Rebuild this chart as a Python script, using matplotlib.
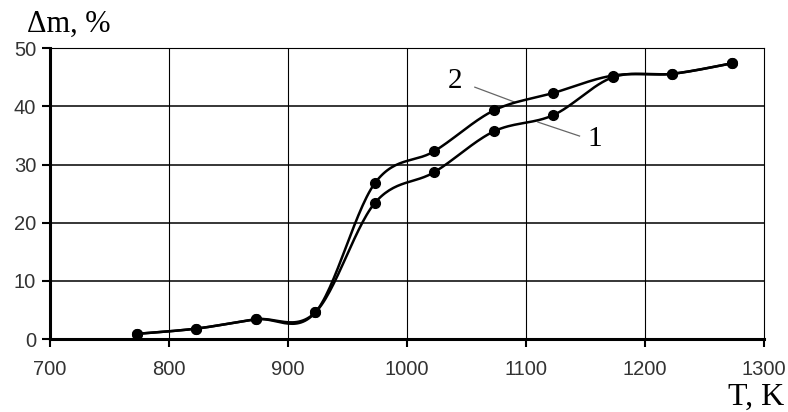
import matplotlib
matplotlib.use('Agg')
import numpy as np
import matplotlib.pyplot as plt

# temperature, K
temp = [773, 823, 873, 923, 973, 1023, 1073, 1123, 1173, 1223, 1273]
# mass change, % (curve 1 - lower, curve 2 - upper)
dm_1 = [0.9, 1.8, 3.4, 4.6, 23.4, 28.7, 35.7, 38.5, 45.0, 45.6, 47.4]
dm_2 = [0.9, 1.8, 3.4, 4.6, 26.8, 32.3, 39.3, 42.3, 45.3, 45.6, 47.4]

x_ticks = [700, 800, 900, 1000, 1100, 1200, 1300]
y_ticks = [0, 10, 20, 30, 40, 50]


def smooth(x, y, n=30):
    # Excel-style smoothed line (Catmull-Rom through the points)
    x = np.asarray(x, float)
    y = np.asarray(y, float)
    px = np.concatenate([[x[0]], x, [x[-1]]])
    py = np.concatenate([[y[0]], y, [y[-1]]])
    xs, ys = [], []
    t = np.linspace(0, 1, n)
    for i in range(1, len(px) - 2):
        p0, p1, p2, p3 = (np.array([px[j], py[j]]) for j in (i - 1, i, i + 1, i + 2))
        c1 = p1 + (p2 - p0) / 6
        c2 = p2 - (p3 - p1) / 6
        pts = ((1 - t) ** 3)[:, None] * p1 + (3 * (1 - t) ** 2 * t)[:, None] * c1 \
            + (3 * (1 - t) * t ** 2)[:, None] * c2 + (t ** 3)[:, None] * p2
        xs.extend(pts[:, 0])
        ys.extend(pts[:, 1])
    return xs, ys


fig = plt.figure(figsize=(7.88, 4.12), dpi=100)
ax = fig.add_axes([0.0635, 0.177, 0.906, 0.706])

for dm in (dm_1, dm_2):
    sx, sy = smooth(temp, dm)
    ax.plot(sx, sy, color='black', lw=1.8, zorder=3)
    ax.plot(temp, dm, 'o', color='black', ms=7, zorder=4)

ax.set_xlim(700, 1300)
ax.set_ylim(0, 50)
ax.set_xticks(x_ticks)
ax.set_yticks(y_ticks)
for v in x_ticks[1:-1]:
    ax.axvline(v, color='black', lw=0.8, zorder=1)
for v in y_ticks[1:-1]:
    ax.axhline(v, color='black', lw=1.1, zorder=1)

for side in ('top', 'right'):
    ax.spines[side].set_linewidth(0.8)
for side in ('left', 'bottom'):
    ax.spines[side].set_linewidth(2.2)

ax.tick_params(axis='both', direction='out', length=6, width=1.5,
               labelsize=14.5, labelcolor='#333333', pad=4)
ax.tick_params(axis='x', pad=9)
for lab in ax.get_xticklabels() + ax.get_yticklabels():
    lab.set_family('Liberation Sans')

# curve labels with leader lines
ax.plot([1057, 1091], [43.3, 40.7], color='#666666', lw=0.9, zorder=2)
ax.plot([1145, 1110], [34.9, 37.3], color='#666666', lw=0.9, zorder=2)
ax.text(1040, 44.3, '2', family='Liberation Serif', fontsize=21, ha='center', va='center')
ax.text(1158, 34.4, '1', family='Liberation Serif', fontsize=21, ha='center', va='center')

fig.text(0.034, 0.94, 'Δm, %', family='Liberation Serif', fontsize=22, ha='left', va='center')
fig.text(0.995, 0.036, 'T, K', family='Liberation Serif', fontsize=23, ha='right', va='center')

fig.savefig('out.png', dpi=100)
